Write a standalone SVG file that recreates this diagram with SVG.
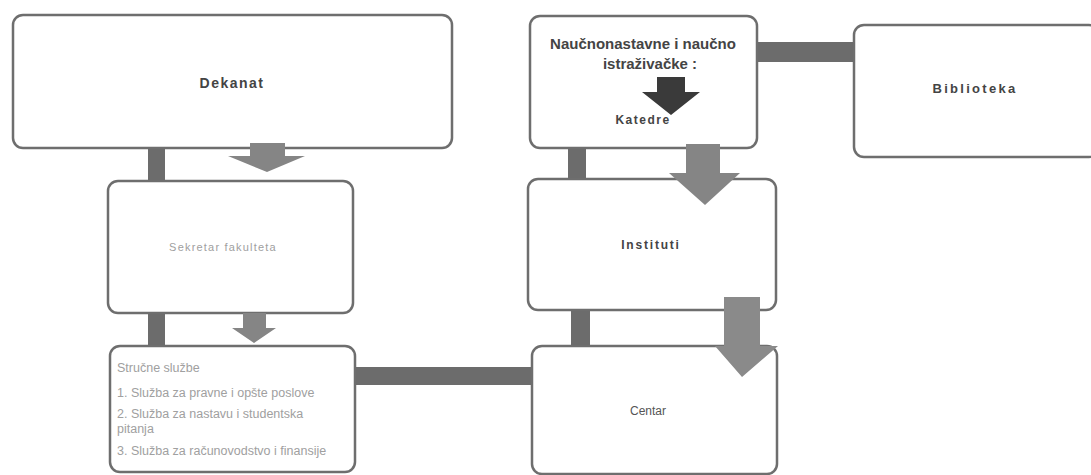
<svg xmlns="http://www.w3.org/2000/svg" width="1091" height="475" viewBox="0 0 1091 475">
<style>
.box{fill:#fff;stroke:#6e6e6e;stroke-width:2.5}
.bar{fill:#6c6c6c}
.arr{fill:#858585}
.b{font-family:"Liberation Sans",Arial,sans-serif;font-weight:bold;fill:#444;text-anchor:middle}
.n{font-family:"Liberation Sans",Arial,sans-serif;font-weight:normal;fill:#555;text-anchor:middle}
.l{font-family:"Liberation Sans",Arial,sans-serif;fill:#a0a0a0}
</style>
<rect width="1091" height="475" fill="#fff"/>
<g id="connectors">
<rect class="bar" x="148" y="146" width="17" height="37"/>
<rect class="bar" x="148" y="311" width="17" height="37"/>
<rect class="bar" x="353" y="367" width="181" height="18"/>
<rect class="bar" x="568" y="146" width="18" height="34"/>
<rect class="bar" x="571" y="308" width="19" height="39"/>
<rect class="bar" x="755" y="42" width="101" height="20"/>
</g>
<g id="dekanat"><rect class="box" x="13" y="15" width="439" height="133" rx="10"/><text class="b" x="232" y="88" font-size="14" letter-spacing="1.5">Dekanat</text></g>
<g id="sekretar"><rect class="box" x="108" y="181" width="245" height="132" rx="10"/><text class="l" x="223" y="251" font-size="11" letter-spacing="1.2" text-anchor="middle">Sekretar fakulteta</text></g>
<g id="strucne"><rect class="box" x="110" y="346" width="245" height="126" rx="10"/>
<text class="l" font-size="12.5"><tspan x="117" y="372">Stručne službe</tspan><tspan x="117" y="397">1. Služba za pravne i opšte poslove</tspan><tspan x="117" y="418">2. Služba za nastavu i studentska</tspan><tspan x="117" y="433">pitanja</tspan><tspan x="117" y="455">3. Služba za računovodstvo i finansije</tspan></text></g>
<g id="naucno"><rect class="box" x="530" y="16" width="227" height="132" rx="10"/>
<text class="b" x="643" y="49" font-size="15" fill="#333">Naučnonastavne i naučno</text>
<text class="b" x="650" y="69" font-size="15" fill="#333">istraživačke :</text>
<polygon fill="#3a3a3a" points="657,77 685,77 685,92 700,92 671,115 642,92 657,92"/>
<text class="b" x="643" y="124" font-size="12" letter-spacing="1.5">Katedre</text></g>
<g id="biblioteka"><rect class="box" x="854" y="25" width="245" height="132" rx="10"/><text class="b" x="975" y="93" font-size="13" letter-spacing="2.3">Biblioteka</text></g>
<g id="institut"><rect class="box" x="528" y="179" width="248" height="131" rx="10"/><text class="b" x="651" y="249" font-size="12" letter-spacing="1.8">Instituti</text></g>
<g id="centar"><rect class="box" x="532" y="346" width="245" height="128" rx="10"/><text class="n" x="648" y="415" font-size="12">Centar</text></g>
<g id="arrows">
<polygon class="arr" points="250,143 285,143 285,156 305,156 267,172 228,156 250,156"/>
<polygon class="arr" points="243,313 266,313 266,328 276,328 254,343 232,328 243,328"/>
<polygon class="arr" points="686,144 720,144 720,173 740,173 705,205 669,173 686,173"/>
<polygon fill="#8a8a8a" points="724,297 760,297 760,346 778,346 742,377 715,346 724,346"/>
</g>
</svg>
